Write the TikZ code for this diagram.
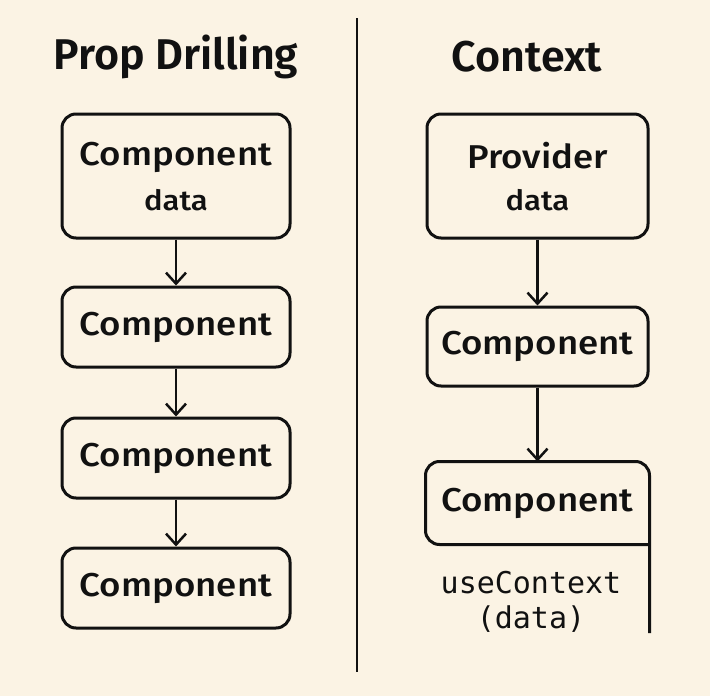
\documentclass[tikz,border=0pt]{standalone}
\usepackage{fontspec}
\setmainfont{Fira Sans}[UprightFont=* Medium, BoldFont=* SemiBold]
\newfontfamily\boxfont{Fira Sans}[UprightFont=* Medium, FakeStretch=1.11]
\setmonofont{DejaVu Sans Mono}
\usetikzlibrary{arrows.meta}
\definecolor{bg}{HTML}{FBF3E4}
\definecolor{ink}{HTML}{111111}
\begin{document}
\begin{tikzpicture}[x=1pt,y=-1pt,
  box/.style={draw=ink,line width=3pt,rounded corners=14pt,minimum width=228pt,inner sep=0pt,align=center,font=\boxfont\fontsize{33}{36}\selectfont,text=ink},
  rbox/.style={box,minimum width=221pt},
  flow/.style={draw=ink,line width=2.5pt,-{Straight Barb[length=11pt,width=20pt,line width=2.5pt]}},
  ttl/.style={font=\bfseries\fontsize{43}{46}\selectfont,text=ink},
  sub/.style={font=\boxfont\fontsize{28}{30}\selectfont,text=ink},
  mono/.style={font=\ttfamily\fontsize{30}{32}\selectfont,text=ink}]
\fill[bg] (0,0) rectangle (710,696);
\useasboundingbox (0,0) rectangle (710,696);
\draw[ink,line width=2.5pt] (357,18) coordinate (d1) -- (357,672) coordinate (d2);
\node[ttl] (t1) at (176,57) {Prop Drilling};
\node[ttl] (t2) at (527,57) {Context};
% left
\node[box,minimum height=124pt] (l1) at (176,176) {};
\node[box,draw=none] (l1a) at (176,157) {Component};
\node[sub] (l1b) at (176,200) {data};
\node[box,minimum height=80pt] (l2) at (176,327) {Component};
\node[box,minimum height=80pt] (l3) at (176,458) {Component};
\node[box,minimum height=80pt] (l4) at (176,588) {Component};
\draw[flow] (l1) -- (l2);
\draw[flow] (l2) -- (l3);
\draw[flow] (l3) -- (l4);
% right
\node[rbox,minimum height=124pt] (r1) at (537.5,176) {};
\node[rbox,draw=none] (r1a) at (537.5,156) {Provider};
\node[sub] (r1b) at (537.5,200) {data};
\node[rbox,minimum height=79pt] (r2) at (537.5,346.5) {Component};
\node[rbox,minimum height=80pt,draw=none] (r3) at (537.5,503) {Component};
\coordinate (e1) at (648,633);
\draw[ink,line width=3pt,rounded corners=14pt] (r3.east |- e1) -- (r3.north east) -- (r3.north west) -- (r3.south west) -- (r3.south east);
\draw[flow] (r1) -- (r2);
\draw[flow] (r2) -- (r3);
\node[mono] (u1) at (531,583) {useContext};
\node[mono] (u2) at (531,619) {(data)};
\end{tikzpicture}
\end{document}
